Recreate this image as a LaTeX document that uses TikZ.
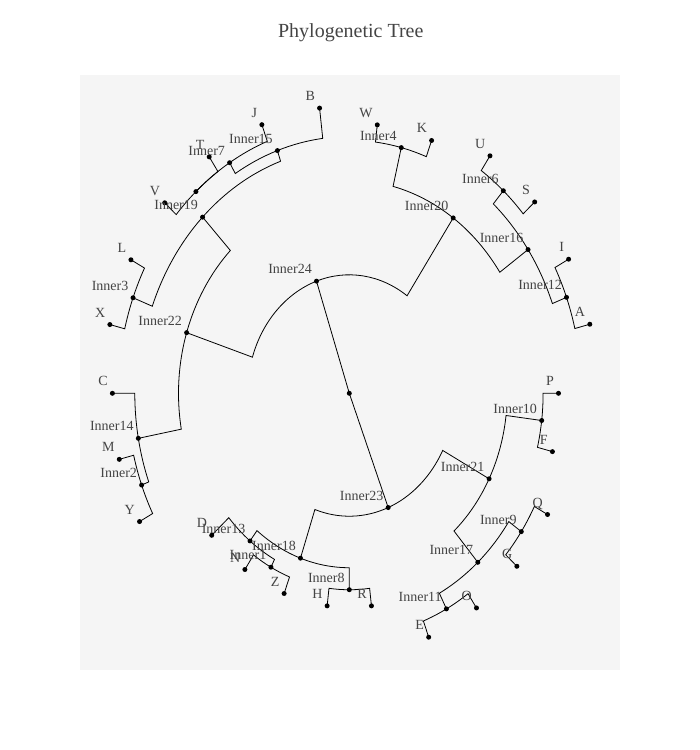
\documentclass[tikz,border=0pt]{standalone}
\usepackage{fontspec}
\setmainfont{Liberation Serif}
\usepackage{tikz}

\definecolor{bggray}{HTML}{F5F5F5}
\definecolor{txtgray}{HTML}{444444}

\begin{document}
\begin{tikzpicture}[x=1pt, y=1pt,
    dot/.style={circle, fill=black, inner sep=0pt, minimum size=5pt},
    branch/.style={line width=0.8pt, black},
    lab/.style={anchor=base east, xshift=-4.5pt, yshift=7.5pt, inner sep=0pt,
                text=txtgray, font=\fontsize{14}{16}\selectfont}]

    \useasboundingbox (-349.3, -356.7) rectangle (350.7, 393.3);
    \fill[bggray] (-269.3, -276.7) rectangle (270.2, 318.3);

    \node[anchor=base, text=txtgray, font=\fontsize{20}{24}\selectfont] (title) at (1.5, 355.6) {Phylogenetic Tree};

  \begin{scope}[yscale=1.165]
    % inner nodes
    \node[dot] (root) at (0, 0) {};
    \node[dot] (in24) at (108.82:101.7) {};
    \node[dot] (in23) at (291.635:105.5) {};
    \node[dot] (in22) at (162.26:170.8) {};
    \node[dot] (in20) at (55.385:182.9) {};
    \node[dot] (in21) at (332.308:157.9) {};
    \node[dot] (in18) at (250.962:149.7) {};
    \node[dot] (in19) at (134.135:210.7) {};
    \node[dot] (in14) at (190.385:214.5) {};
    \node[dot] (in15) at (109.038:220.4) {};
    \node[dot] (in3) at (159.231:231.3) {};
    \node[dot] (in7) at (121.154:231.3) {};
    \node[dot] (in5) at (131.538:231.3) {};
    \node[dot] (in2) at (200.769:222.1) {};
    \node[dot] (in16) at (34.615:217.2) {};
    \node[dot] (in4) at (76.154:217.2) {};
    \node[dot] (in6) at (48.462:232.3) {};
    \node[dot] (in12) at (20.769:232.3) {};
    \node[dot] (in10) at (353.077:193.8) {};
    \node[dot] (in17) at (311.538:193.8) {};
    \node[dot] (in9) at (325.385:209.0) {};
    \node[dot] (in11) at (297.692:209.0) {};
    \node[dot] (in13) at (231.923:161.0) {};
    \node[dot] (in1) at (242.308:168.6) {};
    \node[dot] (in8) at (270:168.6) {};

    % leaves
    \node[dot] (nP) at (0:209.2) {};
    \node[dot] (nA) at (13.846:247.7) {};
    \node[dot] (nI) at (27.692:247.7) {};
    \node[dot] (nS) at (41.538:247.7) {};
    \node[dot] (nU) at (55.385:247.7) {};
    \node[dot] (nK) at (69.231:232.1) {};
    \node[dot] (nW) at (83.077:232.1) {};
    \node[dot] (nB) at (96.923:246.6) {};
    \node[dot] (nJ) at (110.769:246.6) {};
    \node[dot] (nT) at (124.615:246.6) {};
    \node[dot] (nV) at (138.462:246.6) {};
    \node[dot] (nL) at (152.308:246.6) {};
    \node[dot] (nX) at (166.154:246.6) {};
    \node[dot] (nC) at (180:236.9) {};
    \node[dot] (nM) at (193.846:236.9) {};
    \node[dot] (nY) at (207.692:236.9) {};
    \node[dot] (nD) at (221.538:183.8) {};
    \node[dot] (nN) at (235.385:183.8) {};
    \node[dot] (nZ) at (249.231:183.8) {};
    \node[dot] (nH) at (263.077:183.8) {};
    \node[dot] (nR) at (276.923:183.8) {};
    \node[dot] (nE) at (290.769:223.9) {};
    \node[dot] (nO) at (304.615:223.9) {};
    \node[dot] (nG) at (318.462:223.9) {};
    \node[dot] (nQ) at (332.308:223.9) {};
    \node[dot] (nF) at (346.154:209.2) {};

    % branches: arc on the parent radius, then out to the child
    \draw[branch] (root.center) -- (in24.center);
    \draw[branch] (root.center) -- (in23.center);

    \draw[branch] (in24.center) arc[start angle=108.82, end angle=162.26, radius=101.7pt] -- (in22.center);
    \draw[branch] (in24.center) arc[start angle=108.82, end angle=55.385, radius=101.7pt] -- (in20.center);

    \draw[branch] (in22.center) arc[start angle=162.26, end angle=134.135, radius=170.8pt] -- (in19.center);
    \draw[branch] (in22.center) arc[start angle=162.26, end angle=190.385, radius=170.8pt] -- (in14.center);

    \draw[branch] (in19.center) arc[start angle=134.135, end angle=109.038, radius=210.7pt] -- (in15.center);
    \draw[branch] (in19.center) arc[start angle=134.135, end angle=159.231, radius=210.7pt] -- (in3.center);

    \draw[branch] (in15.center) arc[start angle=109.038, end angle=96.923, radius=220.4pt] -- (nB.center);
    \draw[branch] (in15.center) arc[start angle=109.038, end angle=121.154, radius=220.4pt] -- (in7.center);

    \draw[branch] (in7.center) arc[start angle=121.154, end angle=110.769, radius=231.3pt] -- (nJ.center);
    \draw[branch] (in7.center) arc[start angle=121.154, end angle=131.538, radius=231.3pt] -- (in5.center);

    \draw[branch] (in5.center) arc[start angle=131.538, end angle=124.615, radius=231.3pt] -- (nT.center);
    \draw[branch] (in5.center) arc[start angle=131.538, end angle=138.462, radius=231.3pt] -- (nV.center);

    \draw[branch] (in3.center) arc[start angle=159.231, end angle=152.308, radius=231.3pt] -- (nL.center);
    \draw[branch] (in3.center) arc[start angle=159.231, end angle=166.154, radius=231.3pt] -- (nX.center);

    \draw[branch] (in14.center) arc[start angle=190.385, end angle=180, radius=214.5pt] -- (nC.center);
    \draw[branch] (in14.center) arc[start angle=190.385, end angle=200.769, radius=214.5pt] -- (in2.center);

    \draw[branch] (in2.center) arc[start angle=200.769, end angle=193.846, radius=222.1pt] -- (nM.center);
    \draw[branch] (in2.center) arc[start angle=200.769, end angle=207.692, radius=222.1pt] -- (nY.center);

    \draw[branch] (in20.center) arc[start angle=55.385, end angle=34.615, radius=182.9pt] -- (in16.center);
    \draw[branch] (in20.center) arc[start angle=55.385, end angle=76.154, radius=182.9pt] -- (in4.center);

    \draw[branch] (in16.center) arc[start angle=34.615, end angle=48.462, radius=217.2pt] -- (in6.center);
    \draw[branch] (in16.center) arc[start angle=34.615, end angle=20.769, radius=217.2pt] -- (in12.center);

    \draw[branch] (in6.center) arc[start angle=48.462, end angle=55.385, radius=232.3pt] -- (nU.center);
    \draw[branch] (in6.center) arc[start angle=48.462, end angle=41.538, radius=232.3pt] -- (nS.center);

    \draw[branch] (in12.center) arc[start angle=20.769, end angle=27.692, radius=232.3pt] -- (nI.center);
    \draw[branch] (in12.center) arc[start angle=20.769, end angle=13.846, radius=232.3pt] -- (nA.center);

    \draw[branch] (in4.center) arc[start angle=76.154, end angle=83.077, radius=217.2pt] -- (nW.center);
    \draw[branch] (in4.center) arc[start angle=76.154, end angle=69.231, radius=217.2pt] -- (nK.center);

    \draw[branch] (in23.center) arc[start angle=291.635, end angle=332.308, radius=105.5pt] -- (in21.center);
    \draw[branch] (in23.center) arc[start angle=291.635, end angle=250.962, radius=105.5pt] -- (in18.center);

    \draw[branch] (in21.center) arc[start angle=332.308, end angle=353.077, radius=157.9pt] -- (in10.center);
    \draw[branch] (in21.center) arc[start angle=332.308, end angle=311.538, radius=157.9pt] -- (in17.center);

    \draw[branch] (in10.center) arc[start angle=353.077, end angle=360, radius=193.8pt] -- (nP.center);
    \draw[branch] (in10.center) arc[start angle=353.077, end angle=346.154, radius=193.8pt] -- (nF.center);

    \draw[branch] (in17.center) arc[start angle=311.538, end angle=325.385, radius=193.8pt] -- (in9.center);
    \draw[branch] (in17.center) arc[start angle=311.538, end angle=297.692, radius=193.8pt] -- (in11.center);

    \draw[branch] (in9.center) arc[start angle=325.385, end angle=332.308, radius=209.0pt] -- (nQ.center);
    \draw[branch] (in9.center) arc[start angle=325.385, end angle=318.462, radius=209.0pt] -- (nG.center);

    \draw[branch] (in11.center) arc[start angle=297.692, end angle=304.615, radius=209.0pt] -- (nO.center);
    \draw[branch] (in11.center) arc[start angle=297.692, end angle=290.769, radius=209.0pt] -- (nE.center);

    \draw[branch] (in18.center) arc[start angle=250.962, end angle=231.923, radius=149.7pt] -- (in13.center);
    \draw[branch] (in18.center) arc[start angle=250.962, end angle=270, radius=149.7pt] -- (in8.center);

    \draw[branch] (in13.center) arc[start angle=231.923, end angle=221.538, radius=161.0pt] -- (nD.center);
    \draw[branch] (in13.center) arc[start angle=231.923, end angle=242.308, radius=161.0pt] -- (in1.center);

    \draw[branch] (in1.center) arc[start angle=242.308, end angle=235.385, radius=168.6pt] -- (nN.center);
    \draw[branch] (in1.center) arc[start angle=242.308, end angle=249.231, radius=168.6pt] -- (nZ.center);

    \draw[branch] (in8.center) arc[start angle=270, end angle=263.077, radius=168.6pt] -- (nH.center);
    \draw[branch] (in8.center) arc[start angle=270, end angle=276.923, radius=168.6pt] -- (nR.center);
  \end{scope}

    % labels, up and left of each dot
    \node[lab] (tin24) at (in24) {Inner24};
    \node[lab] (tin23) at (in23) {Inner23};
    \node[lab] (tin22) at (in22) {Inner22};
    \node[lab] (tin21) at (in21) {Inner21};
    \node[lab] (tin20) at (in20) {Inner20};
    \node[lab] (tin19) at (in19) {Inner19};
    \node[lab] (tin18) at (in18) {Inner18};
    \node[lab] (tin17) at (in17) {Inner17};
    \node[lab] (tin16) at (in16) {Inner16};
    \node[lab] (tin15) at (in15) {Inner15};
    \node[lab] (tin14) at (in14) {Inner14};
    \node[lab] (tin13) at (in13) {Inner13};
    \node[lab] (tin12) at (in12) {Inner12};
    \node[lab] (tin11) at (in11) {Inner11};
    \node[lab] (tin10) at (in10) {Inner10};
    \node[lab] (tin9) at (in9) {Inner9};
    \node[lab] (tin8) at (in8) {Inner8};
    \node[lab] (tin7) at (in7) {Inner7};
    \node[lab] (tin6) at (in6) {Inner6};
    \node[lab] (tin4) at (in4) {Inner4};
    \node[lab] (tin3) at (in3) {Inner3};
    \node[lab] (tin2) at (in2) {Inner2};
    \node[lab] (tin1) at (in1) {Inner1};

    \node[lab] (tA) at (nA) {A};
    \node[lab] (tB) at (nB) {B};
    \node[lab] (tC) at (nC) {C};
    \node[lab] (tD) at (nD) {D};
    \node[lab] (tE) at (nE) {E};
    \node[lab] (tF) at (nF) {F};
    \node[lab] (tG) at (nG) {G};
    \node[lab] (tH) at (nH) {H};
    \node[lab] (tI) at (nI) {I};
    \node[lab] (tJ) at (nJ) {J};
    \node[lab] (tK) at (nK) {K};
    \node[lab] (tL) at (nL) {L};
    \node[lab] (tM) at (nM) {M};
    \node[lab] (tN) at (nN) {N};
    \node[lab] (tO) at (nO) {O};
    \node[lab] (tP) at (nP) {P};
    \node[lab] (tQ) at (nQ) {Q};
    \node[lab] (tR) at (nR) {R};
    \node[lab] (tS) at (nS) {S};
    \node[lab] (tT) at (nT) {T};
    \node[lab] (tU) at (nU) {U};
    \node[lab] (tV) at (nV) {V};
    \node[lab] (tW) at (nW) {W};
    \node[lab] (tX) at (nX) {X};
    \node[lab] (tY) at (nY) {Y};
    \node[lab] (tZ) at (nZ) {Z};
\end{tikzpicture}
\end{document}
